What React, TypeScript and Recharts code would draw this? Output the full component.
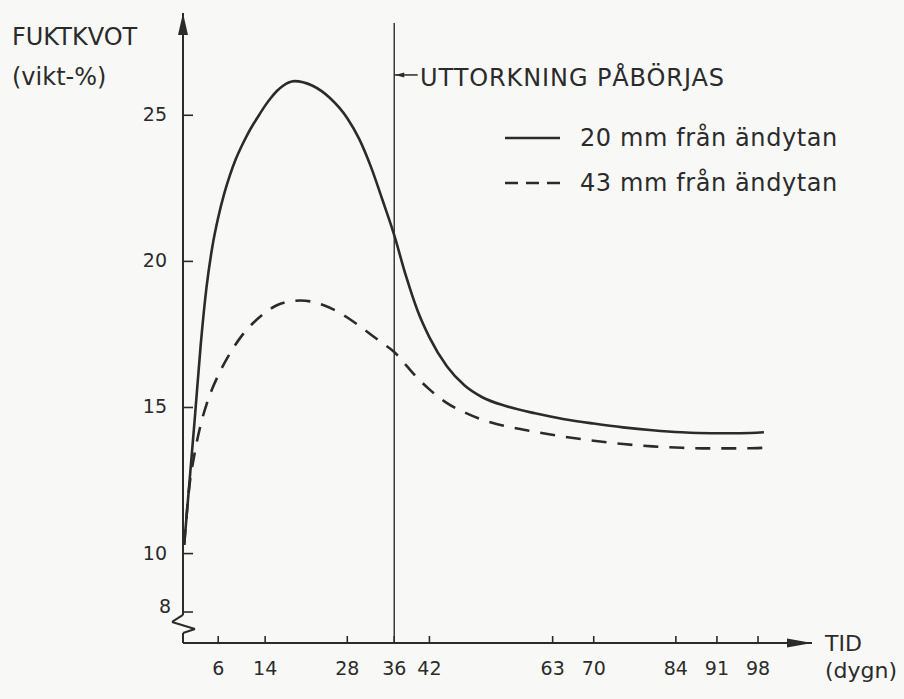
import React from 'react';
import { ComposedChart, Line, XAxis, YAxis, ReferenceLine, ReferenceDot, Legend } from 'recharts';

// ---- data ----
const xTicks = [6, 14, 28, 36, 42, 63, 70, 84, 91, 98];
const yTicks = [8, 10, 15, 20, 25];

const days20 = [0.2, 1, 2, 3, 4, 5, 6, 7, 8, 9, 10, 11, 12, 13, 14, 15, 16, 17, 18, 19, 22, 25, 28, 30, 32, 34, 36, 38, 40, 42, 45, 48, 51, 55, 60, 65, 70, 75, 80, 85, 90, 95, 99];
const moist20 = [10.3, 12.2, 14.6, 17.1, 19.1, 20.5, 21.5, 22.3, 22.95, 23.5, 23.95, 24.35, 24.7, 25.02, 25.33, 25.6, 25.83, 26.0, 26.12, 26.17, 26.02, 25.6, 24.9, 24.2, 23.25, 22.1, 20.9, 19.5, 18.3, 17.4, 16.4, 15.75, 15.35, 15.05, 14.8, 14.6, 14.45, 14.32, 14.22, 14.15, 14.12, 14.12, 14.15];

const days43 = [0.2, 1, 2, 3, 4, 5, 6, 8, 10, 12, 14, 16, 18, 20, 22, 24, 26, 28, 30, 32, 34, 36, 38, 40, 42, 45, 48, 51, 55, 60, 65, 70, 75, 80, 85, 90, 95, 99];
const moist43 = [10.3, 12.15, 13.45, 14.4, 15.1, 15.65, 16.1, 16.85, 17.45, 17.9, 18.25, 18.5, 18.62, 18.66, 18.62, 18.5, 18.32, 18.08, 17.8, 17.5, 17.2, 16.9, 16.45, 16.0, 15.62, 15.15, 14.83, 14.58, 14.36, 14.17, 14.0, 13.86, 13.75, 13.67, 13.62, 13.6, 13.6, 13.62];

const seriesNames = ['20 mm från ändytan', '43 mm från ändytan'];
const annotationText = 'UTTORKNING PÅBÖRJAS';
const startDay = 36;

const data20 = days20.map((d, i) => ({ x: d, y: moist20[i] }));
const data43 = days43.map((d, i) => ({ x: d, y: moist43[i] }));

// ---- layout / style ----
const W = 904;
const H = 699;
const X_MAX = 107.2;
const Y_MIN = 6.94;
const Y_MAX = 28.5;
const INK = '#2b2b2b';
const FONT = '"DejaVu Sans", Verdana, sans-serif';
const DASH = '15 11';

const XTick = (p: any) => {
  const { x, y, payload } = p;
  return (
    <g>
      <line x1={x} x2={x} y1={y} y2={y - 7} stroke={INK} strokeWidth={1.6} />
      <text x={x} y={y + 25} textAnchor="middle" dominantBaseline="central" fontSize={19} fill={INK} fontFamily={FONT}>
        {payload.value}
      </text>
    </g>
  );
};

const YTick = (p: any) => {
  const { x, y, payload } = p;
  const is8 = payload.value === 8;
  return (
    <g>
      <line x1={x} x2={x + 10} y1={y} y2={y} stroke={INK} strokeWidth={1.6} />
      <text x={x - (is8 ? 12 : 16)} y={is8 ? y - 6 : y - 1} textAnchor="end" dominantBaseline="central" fontSize={19} fill={INK} fontFamily={FONT}>
        {payload.value}
      </text>
    </g>
  );
};

const arrowRight = (p: any) => (
  <polygon points={`${p.cx},${p.cy} ${p.cx - 25},${p.cy - 4.5} ${p.cx - 25},${p.cy + 4.5}`} fill={INK} />
);
const arrowUp = (p: any) => (
  <polygon points={`${p.cx},${p.cy} ${p.cx - 5},${p.cy + 22} ${p.cx + 5},${p.cy + 22}`} fill={INK} />
);
const arrowLeftSmall = (p: any) => (
  <polygon points={`${p.cx + 1},${p.cy} ${p.cx + 10},${p.cy - 2.5} ${p.cx + 10},${p.cy + 2.5}`} fill={INK} />
);
const annotation = (p: any) => (
  <text x={p.cx} y={p.cy} dominantBaseline="central" fontSize={24} letterSpacing={0.9} fill={INK} fontFamily={FONT}>
    {annotationText}
  </text>
);

const legendDash: Record<string, string | undefined> = {
  [seriesNames[0]]: undefined,
  [seriesNames[1]]: '13 8',
};

const renderLegend = (props: any) => {
  const payload = props.payload || [];
  return (
    <div style={{ fontFamily: FONT }}>
      {payload.map((e: any) => (
        <div key={e.value} style={{ display: 'flex', alignItems: 'center', height: 45 }}>
          <svg width={55} height={10} style={{ display: 'block' }}>
            <line x1={0} x2={55} y1={5} y2={5} stroke={INK} strokeWidth={2.5} strokeDasharray={legendDash[e.value]} />
          </svg>
          <span style={{ marginLeft: 20, fontSize: 24, letterSpacing: 0.6, color: INK, whiteSpace: 'nowrap' }}>{e.value}</span>
        </div>
      ))}
    </div>
  );
};

export default function App() {
  return (
    <div style={{ position: 'absolute', left: 0, top: 0, width: W, height: H, background: '#f8f8f7', overflow: 'hidden' }}>
      <ComposedChart width={W} height={H} margin={{ top: 13, right: 92, bottom: 6, left: 123 }}>
        <XAxis
          type="number"
          dataKey="x"
          domain={[0, X_MAX]}
          ticks={xTicks}
          interval={0}
          allowDataOverflow
          height={50}
          axisLine={{ stroke: INK, strokeWidth: 2 }}
          tickLine={false}
          tickSize={0}
          tickMargin={0}
          tick={XTick}
        />
        <YAxis
          type="number"
          dataKey="y"
          domain={[Y_MIN, Y_MAX]}
          ticks={yTicks}
          interval={0}
          allowDataOverflow
          width={60}
          axisLine={false}
          tickLine={false}
          tickSize={0}
          tickMargin={0}
          tick={YTick}
        />
        {/* y axis with break */}
        <ReferenceLine segment={[{ x: 0, y: Y_MAX }, { x: 0, y: 7.9 }]} stroke={INK} strokeWidth={2} ifOverflow="visible" />
        <ReferenceLine segment={[{ x: 0, y: 7.9 }, { x: -1.87, y: 7.66 }]} stroke={INK} strokeWidth={2} ifOverflow="visible" />
        <ReferenceLine segment={[{ x: -1.87, y: 7.66 }, { x: 2.04, y: 7.42 }]} stroke={INK} strokeWidth={2} ifOverflow="visible" />
        <ReferenceLine segment={[{ x: 2.04, y: 7.42 }, { x: 0, y: 7.28 }]} stroke={INK} strokeWidth={2} ifOverflow="visible" />
        <ReferenceLine segment={[{ x: 0, y: 7.28 }, { x: 0, y: Y_MIN }]} stroke={INK} strokeWidth={2} ifOverflow="visible" />
        {/* drying start */}
        <ReferenceLine segment={[{ x: startDay, y: 28.16 }, { x: startDay, y: Y_MIN }]} stroke="#3a3a3a" strokeWidth={1.5} ifOverflow="visible" />
        <ReferenceLine segment={[{ x: startDay, y: 26.38 }, { x: 40.0, y: 26.38 }]} stroke={INK} strokeWidth={1.5} ifOverflow="visible" />
        <ReferenceDot x={startDay} y={26.38} ifOverflow="visible" shape={arrowLeftSmall} />
        <ReferenceDot x={40.4} y={26.28} ifOverflow="visible" shape={annotation} />
        {/* axis arrows */}
        <ReferenceDot x={X_MAX} y={Y_MIN} ifOverflow="visible" shape={arrowRight} />
        <ReferenceDot x={0} y={Y_MAX} ifOverflow="visible" shape={arrowUp} />

        <Line
          data={data20}
          dataKey="y"
          name={seriesNames[0]}
          type="monotone"
          stroke={INK}
          strokeWidth={2.6}
          dot={false}
          activeDot={false}
          isAnimationActive={false}
        />
        <Line
          data={data43}
          dataKey="y"
          name={seriesNames[1]}
          type="monotone"
          stroke={INK}
          strokeWidth={2.6}
          strokeDasharray={DASH}
          dot={false}
          activeDot={false}
          isAnimationActive={false}
        />
        <Legend
          layout="horizontal"
          verticalAlign="middle"
          align="center"
          content={renderLegend}
          wrapperStyle={{ position: 'absolute', left: 505, top: 115, width: 380, height: 90 }}
        />
      </ComposedChart>
      <svg width={W} height={H} style={{ position: 'absolute', left: 0, top: 0, pointerEvents: 'none' }}>
        <text x={12} y={37} dominantBaseline="central" fontSize={24} fill={INK} fontFamily={FONT}>FUKTKVOT</text>
        <text x={12} y={77} dominantBaseline="central" fontSize={24} fill={INK} fontFamily={FONT}>(vikt-%)</text>
        <text x={825} y={643} dominantBaseline="central" fontSize={22} fill={INK} fontFamily={FONT}>TID</text>
        <text x={825} y={670} dominantBaseline="central" fontSize={22} fill={INK} fontFamily={FONT}>(dygn)</text>
      </svg>
    </div>
  );
}
